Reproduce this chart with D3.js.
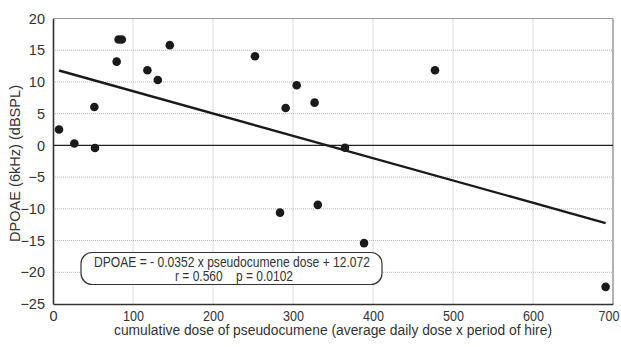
<!DOCTYPE html>
<html>
<head>
<meta charset="utf-8">
<script src="https://cdn.jsdelivr.net/npm/d3@7"></script>
<style>
  body { margin: 0; background: #fff; }
  svg text { font-family: "Liberation Sans", Arial, sans-serif; fill: #333; }
</style>
</head>
<body>
<svg id="chart" width="621" height="347"></svg>
<script>
// dose (x) och DPOAE (y)
let doseValues = [7.5, 26.7, 52.5, 51.7, 79.6, 82, 86, 118, 131, 146,
                  252.5, 304.6, 290.8, 327, 365, 477.5, 283.8, 331, 388.8, 690.8];
let dpoaeValues = [2.5, 0.3, -0.4, 6.05, 13.2, 16.7, 16.7, 11.85, 10.3, 15.8,
                   14.06, 9.48, 5.9, 6.74, -0.37, 11.85, -10.6, -9.37, -15.4, -22.3];
let xTicks = [0, 100, 200, 300, 400, 500, 600, 700];
let yTicks = [20, 15, 10, 5, 0, -5, -10, -15, -20, -25];
let slope = -0.0352;
let intercept = 12.072;
let equationLines = ["DPOAE = - 0.0352 x pseudocumene dose + 12.072", "r = 0.560\u00a0\u00a0\u00a0 p = 0.0102"];

let svg = d3.select("#chart");
let plotLeft = 53, plotRight = 613, plotTop = 18.5, plotBottom = 304;

let x = d3.scaleLinear().domain([0, 700]).range([plotLeft, plotRight]);
let y = d3.scaleLinear().domain([-25, 20]).range([plotBottom, plotTop]);

// rutnät
svg.append("g")
    .selectAll("line")
    .data(xTicks.slice(1, -1))
    .join("line")
    .attr("x1", d => x(d)).attr("x2", d => x(d))
    .attr("y1", plotTop).attr("y2", plotBottom)
    .attr("stroke", "#b5b5b5").attr("stroke-dasharray", "1,1");

svg.append("g")
    .selectAll("line")
    .data(yTicks.filter(d => d !== 0 && d !== 20 && d !== -25))
    .join("line")
    .attr("x1", plotLeft).attr("x2", plotRight)
    .attr("y1", d => y(d)).attr("y2", d => y(d))
    .attr("stroke", "#b5b5b5").attr("stroke-dasharray", "1,1");

// ram (topp och höger grå)
svg.append("line").attr("x1", plotLeft).attr("x2", plotRight).attr("y1", plotTop).attr("y2", plotTop)
    .attr("stroke", "#999").attr("stroke-width", 1.2);
svg.append("line").attr("x1", plotRight).attr("x2", plotRight).attr("y1", plotTop).attr("y2", plotBottom)
    .attr("stroke", "#999").attr("stroke-width", 1.5);

// nollinje
svg.append("line").attr("x1", plotLeft).attr("x2", plotRight).attr("y1", y(0)).attr("y2", y(0))
    .attr("stroke", "#222").attr("stroke-width", 1.3);

// axlar
let xAxis = svg.append("g")
    .attr("transform", `translate(0,${plotBottom})`)
    .call(d3.axisBottom(x).tickValues(xTicks).tickSize(0).tickPadding(7));
let yAxis = svg.append("g")
    .attr("transform", `translate(${plotLeft},0)`)
    .call(d3.axisLeft(y).tickValues(yTicks).tickSize(0).tickPadding(8));

[xAxis, yAxis].forEach(ax => {
    ax.select(".domain").attr("stroke", "#333").attr("stroke-width", 1.6);
    ax.selectAll("text").attr("font-size", 14.5).attr("font-family", null).style("fill", "#333");
});
// x-etiketterna är lite smalare i originalet, sista hålls innanför kanten
xAxis.selectAll("text")
    .attr("dy", "0.68em")
    .attr("textLength", d => d === 0 ? null : 21)
    .attr("lengthAdjust", "spacingAndGlyphs")
    .attr("text-anchor", d => d === 700 ? "end" : "middle")
    .attr("dx", d => d === 700 ? 6 : 0);

// regressionslinje
let xMin = d3.min(doseValues), xMax = d3.max(doseValues);
svg.append("line")
    .attr("x1", x(xMin)).attr("y1", y(intercept + slope * xMin))
    .attr("x2", x(xMax)).attr("y2", y(intercept + slope * xMax))
    .attr("stroke", "#1a1a1a").attr("stroke-width", 2.4);

// punkter
svg.append("g")
    .selectAll("circle")
    .data(doseValues)
    .join("circle")
    .attr("cx", d => x(d))
    .attr("cy", (d, i) => y(dpoaeValues[i]))
    .attr("r", 4.3)
    .attr("fill", "#1a1a1a");

// ekvationsruta
svg.append("rect")
    .attr("x", 81).attr("y", 252.5).attr("width", 301).attr("height", 32)
    .attr("rx", 11).attr("ry", 11)
    .attr("fill", "#fff").attr("stroke", "#333").attr("stroke-width", 1.2);

svg.append("text").attr("x", 232).attr("y", 267).attr("text-anchor", "middle")
    .attr("font-size", 14).attr("textLength", 276).attr("lengthAdjust", "spacingAndGlyphs")
    .text(equationLines[0]);
svg.append("text").attr("x", 234).attr("y", 281).attr("text-anchor", "middle")
    .attr("font-size", 14).attr("textLength", 118).attr("lengthAdjust", "spacingAndGlyphs")
    .text(equationLines[1]);

// axeltitlar
svg.append("text").attr("x", 333).attr("y", 335).attr("text-anchor", "middle")
    .attr("font-size", 14).attr("textLength", 438).attr("lengthAdjust", "spacingAndGlyphs")
    .text("cumulative dose of pseudocumene (average daily dose x period of hire)");
svg.append("text").attr("transform", "translate(19.5,163.5) rotate(-90)").attr("text-anchor", "middle")
    .attr("font-size", 14.5).attr("textLength", 157).attr("lengthAdjust", "spacingAndGlyphs")
    .text("DPOAE (6kHz) (dBSPL)");
</script>
</body>
</html>
